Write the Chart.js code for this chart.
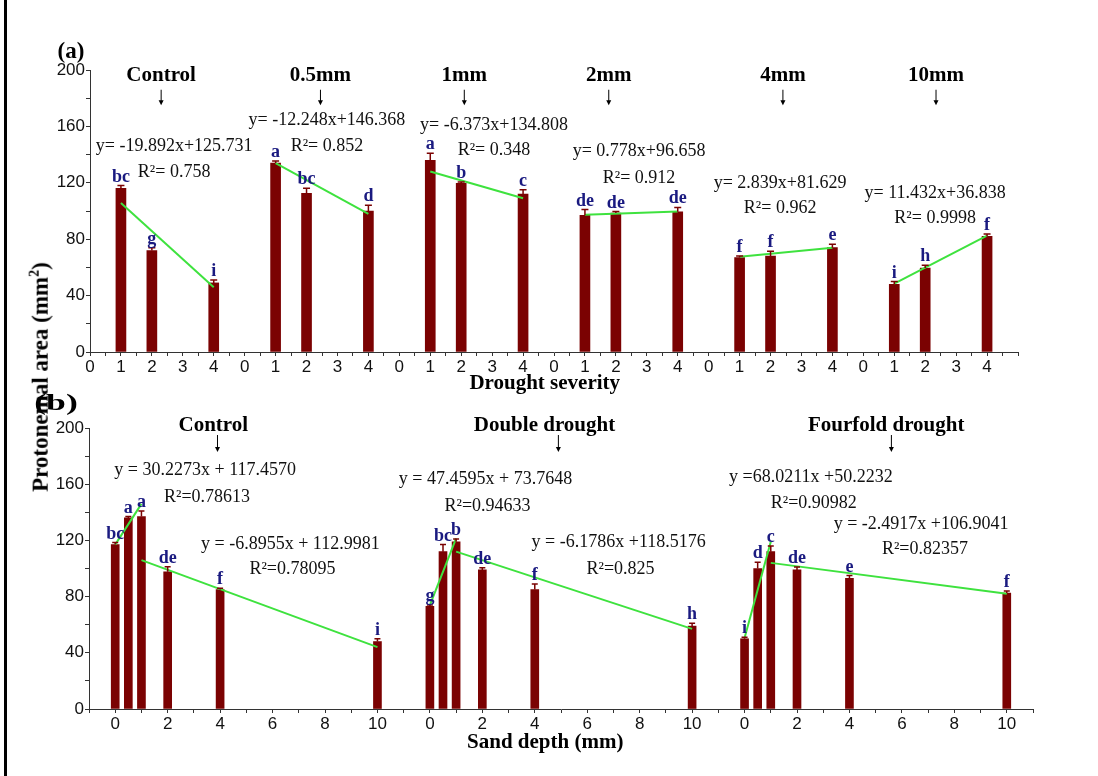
<!DOCTYPE html>
<html>
<head>
<meta charset="utf-8">
<script src="https://cdn.jsdelivr.net/npm/chart.js@4.4.1/dist/chart.umd.min.js"></script>
<style>
html, body { margin: 0; padding: 0; background: #fff; }
#page { position: relative; width: 1098px; height: 776px; overflow: hidden; }
#edge { position: absolute; left: 4px; top: 0; width: 3px; height: 776px; background: #000; }
#wrapA { position: absolute; left: 0; top: 0; }
#wrapB { position: absolute; left: 0; top: 388px; }
#ytitle {
    position: absolute; left: 40px; top: 377px;
    transform: translate(-50%, -50%) rotate(-90deg);
    font: bold 23px "Liberation Serif", "Times New Roman", serif;
    white-space: nowrap; color: #000;
}
#ytitle sup { font-size: 14px; }
</style>
</head>
<body>
<div id="page">
    <div id="edge"></div>
    <div id="wrapA"><canvas id="chartA" width="1098" height="400"></canvas></div>
    <div id="wrapB"><canvas id="chartB" width="1098" height="388"></canvas></div>
    <div id="ytitle">Protonemal area (mm<sup>2</sup>)</div>
</div>
<script>
// ---- panel (a): drought severity within each sand depth ----
const groupsA = ["Control", "0.5mm", "1mm", "2mm", "4mm", "10mm"];
const levelsA = [1, 2, 4];
const areaA = [
    [116, 72, 49],
    [134, 112.6, 100],
    [136, 119.6, 112],
    [97, 98.6, 99.5],
    [67, 68, 74],
    [48, 59.5, 82]
];
const errA = [
    [2, 2, 2],
    [1.5, 3.5, 4],
    [5, 1, 3],
    [4, 1, 3],
    [1, 3.5, 2.4],
    [2, 2, 1.7]
];
const lettersA = [
    ["bc", "g", "i"],
    ["a", "bc", "d"],
    ["a", "b", "c"],
    ["de", "de", "de"],
    ["f", "f", "e"],
    ["i", "h", "f"]
];
// fitted line, value at level 1 and at level 4
const fitA = [[105.7, 46], [134, 98], [128, 109], [97.4, 99.6], [67.5, 74], [48.5, 82.5]];
const eqA = [
    ["y= -19.892x+125.731", "R\u00b2= 0.758"],
    ["y= -12.248x+146.368", "R\u00b2= 0.852"],
    ["y= -6.373x+134.808", "R\u00b2= 0.348"],
    ["y= 0.778x+96.658", "R\u00b2= 0.912"],
    ["y= 2.839x+81.629", "R\u00b2= 0.962"],
    ["y= 11.432x+36.838", "R\u00b2= 0.9998"]
];
// x, y of equation, y of R2 (axis units)
const eqPosA = [[2.72, 146, 127.7], [7.66, 164.5, 146], [13.06, 161, 143.3], [17.75, 142.6, 123.4], [22.31, 120, 102], [27.32, 112.8, 95]];
const headerXA = [2.3, 7.45, 12.1, 16.77, 22.4, 27.35];

// ---- panel (b): sand depth within each drought level ----
const groupsB = ["Control", "Double drought", "Fourfold drought"];
const depthsB = [0, 0.5, 1, 2, 4, 10];
const areaB = [
    [117, 136, 137, 97.7, 85, 48],
    [73, 112, 119, 99, 85, 59],
    [50, 100, 112, 99, 93, 82.5]
];
const errB = [
    [1.5, 1, 4, 3.5, 1, 2],
    [1, 5, 2, 1.5, 4, 2],
    [1, 4.5, 4, 2, 2, 1.5]
];
const lettersB = [
    ["bc", "a", "a", "de", "f", "i"],
    ["g", "bc", "b", "de", "f", "h"],
    ["i", "d", "c", "de", "e", "f"]
];
// rising fit from 0 to 1 mm, falling fit from 1 to 10 mm
const riseB = [[117, 146], [74, 121.5], [50.5, 119]];
const fallB = [[106, 44], [112, 57], [104, 82]];
const eqB = [
    ["y = 30.2273x + 117.4570", "R\u00b2=0.78613", "y = -6.8955x + 112.9981", "R\u00b2=0.78095"],
    ["y = 47.4595x + 73.7648", "R\u00b2=0.94633", "y = -6.1786x +118.5176", "R\u00b2=0.825"],
    ["y =68.0211x +50.2232", "R\u00b2=0.90982", "y = -2.4917x +106.9041", "R\u00b2=0.82357"]
];
// [x, y] for each of the four texts
const eqPosB = [
    [[3.43, 170.1], [3.5, 150.9], [6.68, 117.4], [6.76, 99.6]],
    [[14.12, 163.7], [14.2, 144.5], [19.2, 118.9], [19.27, 99.6]],
    [[26.53, 165], [26.64, 146.6], [30.73, 131.7], [30.88, 113.9]]
];
const headerXB = [3.74, 16.37, 29.4];
const arrowXB = [3.9, 16.9, 29.6];

const serif = '"Liberation Serif", "Times New Roman", serif';
const sans = '"Liberation Sans", Arial, sans-serif';
const barColor = "#7b0202";
const fitColor = "#3ee23e";
const letterColor = "#1a1a80";
const axisColor = "#333";

function text(ctx, str, x, y, font, color, baseline) {
    ctx.font = font;
    ctx.fillStyle = color;
    ctx.textAlign = "center";
    ctx.textBaseline = baseline || "middle";
    ctx.fillText(str, x, y);
}

function errorBar(ctx, px, from, to, half) {
    ctx.strokeStyle = barColor;
    ctx.lineWidth = 1.5;
    ctx.beginPath();
    ctx.moveTo(px, from);
    ctx.lineTo(px, to);
    ctx.moveTo(px - half, to);
    ctx.lineTo(px + half, to);
    ctx.stroke();
}

function arrow(ctx, px, y1, y2) {
    ctx.strokeStyle = "#000";
    ctx.fillStyle = "#000";
    ctx.lineWidth = 1;
    ctx.beginPath();
    ctx.moveTo(px, y1);
    ctx.lineTo(px, y2 - 4);
    ctx.stroke();
    ctx.beginPath();
    ctx.moveTo(px - 2.5, y2 - 5);
    ctx.lineTo(px + 2.5, y2 - 5);
    ctx.lineTo(px, y2);
    ctx.closePath();
    ctx.fill();
}

function yScale() {
    return {
        min: 0, max: 200,
        border: { color: axisColor, width: 1 },
        grid: { drawOnChartArea: false, tickLength: 4, color: axisColor },
        ticks: {
            stepSize: 20, color: "#111", padding: 1,
            font: { family: sans, size: 17 },
            callback: v => (v % 40 === 0 ? v : "")
        }
    };
}

// Panel (a)
const notesA = {
    id: "notesA",
    afterDatasetsDraw(chart) {
        const ctx = chart.ctx, x = chart.scales.x, y = chart.scales.y;
        ctx.save();
        groupsA.forEach((name, g) => {
            levelsA.forEach((lv, i) => {
                const px = x.getPixelForValue(g * 5 + lv);
                const top = y.getPixelForValue(areaA[g][i] + errA[g][i]);
                errorBar(ctx, px, y.getPixelForValue(areaA[g][i]), top, 3.5);
                text(ctx, lettersA[g][i], px, top - 4, "bold 18px " + serif, letterColor, "alphabetic");
            });
            const hx = x.getPixelForValue(headerXA[g]);
            text(ctx, name, hx, y.getPixelForValue(196), "bold 21px " + serif, "#000");
            arrow(ctx, hx, y.getPixelForValue(186), y.getPixelForValue(175));
            const p = eqPosA[g];
            text(ctx, eqA[g][0], x.getPixelForValue(p[0]), y.getPixelForValue(p[1]), "18px " + serif, "#111");
            text(ctx, eqA[g][1], x.getPixelForValue(p[0]), y.getPixelForValue(p[2]), "18px " + serif, "#111");
        });
        text(ctx, "(a)", 71, 52, "bold 23px " + serif, "#000");
        text(ctx, "Drought severity", x.getPixelForValue(14.7), chart.chartArea.bottom + 32, "bold 21px " + serif, "#000");
        ctx.restore();
    }
};

const fitSetsA = groupsA.map((g, gi) => ({
    type: "line",
    data: [{ x: gi * 5 + 1, y: fitA[gi][0] }, { x: gi * 5 + 4, y: fitA[gi][1] }],
    borderColor: fitColor,
    borderWidth: 2,
    pointRadius: 0,
    order: 0
}));

new Chart(document.getElementById("chartA"), {
    type: "bar",
    data: {
        datasets: [{
            label: "Protonemal area",
            data: groupsA.flatMap((g, gi) => levelsA.map((lv, li) => ({ x: gi * 5 + lv, y: areaA[gi][li] }))),
            backgroundColor: barColor,
            barThickness: 10,
            order: 1
        }, ...fitSetsA]
    },
    options: {
        responsive: false,
        animation: false,
        layout: { padding: { left: 0, top: 70, right: 80, bottom: 0 } },
        plugins: { legend: { display: false }, tooltip: { enabled: false } },
        scales: {
            x: {
                type: "linear", min: 0, max: 30, offset: false,
                border: { color: axisColor, width: 1 },
                grid: { drawOnChartArea: false, offset: false, tickLength: 4, color: axisColor },
                ticks: {
                    stepSize: 0.5, autoSkip: false, maxRotation: 0, color: "#111", padding: 1,
                    font: { family: sans, size: 17 },
                    callback: v => (Number.isInteger(v) && v < 30 ? String(v % 5) : "")
                },
                afterFit: s => { s.height = 48; }
            },
            y: { ...yScale(), afterFit: s => { s.width = 90; } }
        }
    },
    plugins: [notesA]
});

// Panel (b)
const notesB = {
    id: "notesB",
    afterDatasetsDraw(chart) {
        const ctx = chart.ctx, x = chart.scales.x, y = chart.scales.y;
        ctx.save();
        groupsB.forEach((name, g) => {
            depthsB.forEach((d, i) => {
                const px = x.getPixelForValue(g * 12 + d);
                const top = y.getPixelForValue(areaB[g][i] + errB[g][i]);
                errorBar(ctx, px, y.getPixelForValue(areaB[g][i]), top, 3);
                text(ctx, lettersB[g][i], px, top - 4, "bold 18px " + serif, letterColor, "alphabetic");
            });
            text(ctx, name, x.getPixelForValue(headerXB[g]), y.getPixelForValue(201.5), "bold 21px " + serif, "#000");
            arrow(ctx, x.getPixelForValue(arrowXB[g]), y.getPixelForValue(195), y.getPixelForValue(183));
            eqPosB[g].forEach((p, k) => {
                text(ctx, eqB[g][k], x.getPixelForValue(p[0]), y.getPixelForValue(p[1]), "18px " + serif, "#111");
            });
        });
        ctx.save();
        ctx.translate(56, 16);
        ctx.scale(1.55, 1);
        text(ctx, "(b)", 0, 0, "bold 23px " + serif, "#000");
        ctx.restore();
        text(ctx, "Sand depth (mm)", x.getPixelForValue(16.4), chart.chartArea.bottom + 34, "bold 21px " + serif, "#000");
        ctx.restore();
    }
};

const fitSetsB = groupsB.flatMap((g, gi) => [
    {
        type: "line",
        data: [{ x: gi * 12, y: riseB[gi][0] }, { x: gi * 12 + 1, y: riseB[gi][1] }],
        borderColor: fitColor, borderWidth: 2, pointRadius: 0, order: 0
    },
    {
        type: "line",
        data: [{ x: gi * 12 + 1, y: fallB[gi][0] }, { x: gi * 12 + 10, y: fallB[gi][1] }],
        borderColor: fitColor, borderWidth: 2, pointRadius: 0, order: 0
    }
]);

new Chart(document.getElementById("chartB"), {
    type: "bar",
    data: {
        datasets: [{
            label: "Protonemal area",
            data: groupsB.flatMap((g, gi) => depthsB.map((d, di) => ({ x: gi * 12 + d, y: areaB[gi][di] }))),
            backgroundColor: barColor,
            barThickness: 8,
            order: 1
        }, ...fitSetsB]
    },
    options: {
        responsive: false,
        animation: false,
        layout: { padding: { left: 0, top: 40, right: 65, bottom: 0 } },
        plugins: { legend: { display: false }, tooltip: { enabled: false } },
        scales: {
            x: {
                type: "linear", min: -1, max: 35, offset: false,
                border: { color: axisColor, width: 1 },
                grid: { drawOnChartArea: false, offset: false, tickLength: 4, color: axisColor },
                ticks: {
                    stepSize: 1, autoSkip: false, maxRotation: 0, color: "#111", padding: 1,
                    font: { family: sans, size: 17 },
                    callback: v => {
                        const r = v - 12 * Math.floor((v + 1) / 12);
                        return r >= 0 && r <= 10 && r % 2 === 0 ? String(r) : "";
                    }
                },
                afterFit: s => { s.height = 67; }
            },
            y: { ...yScale(), afterFit: s => { s.width = 89; } }
        }
    },
    plugins: [notesB]
});
</script>
</body>
</html>
